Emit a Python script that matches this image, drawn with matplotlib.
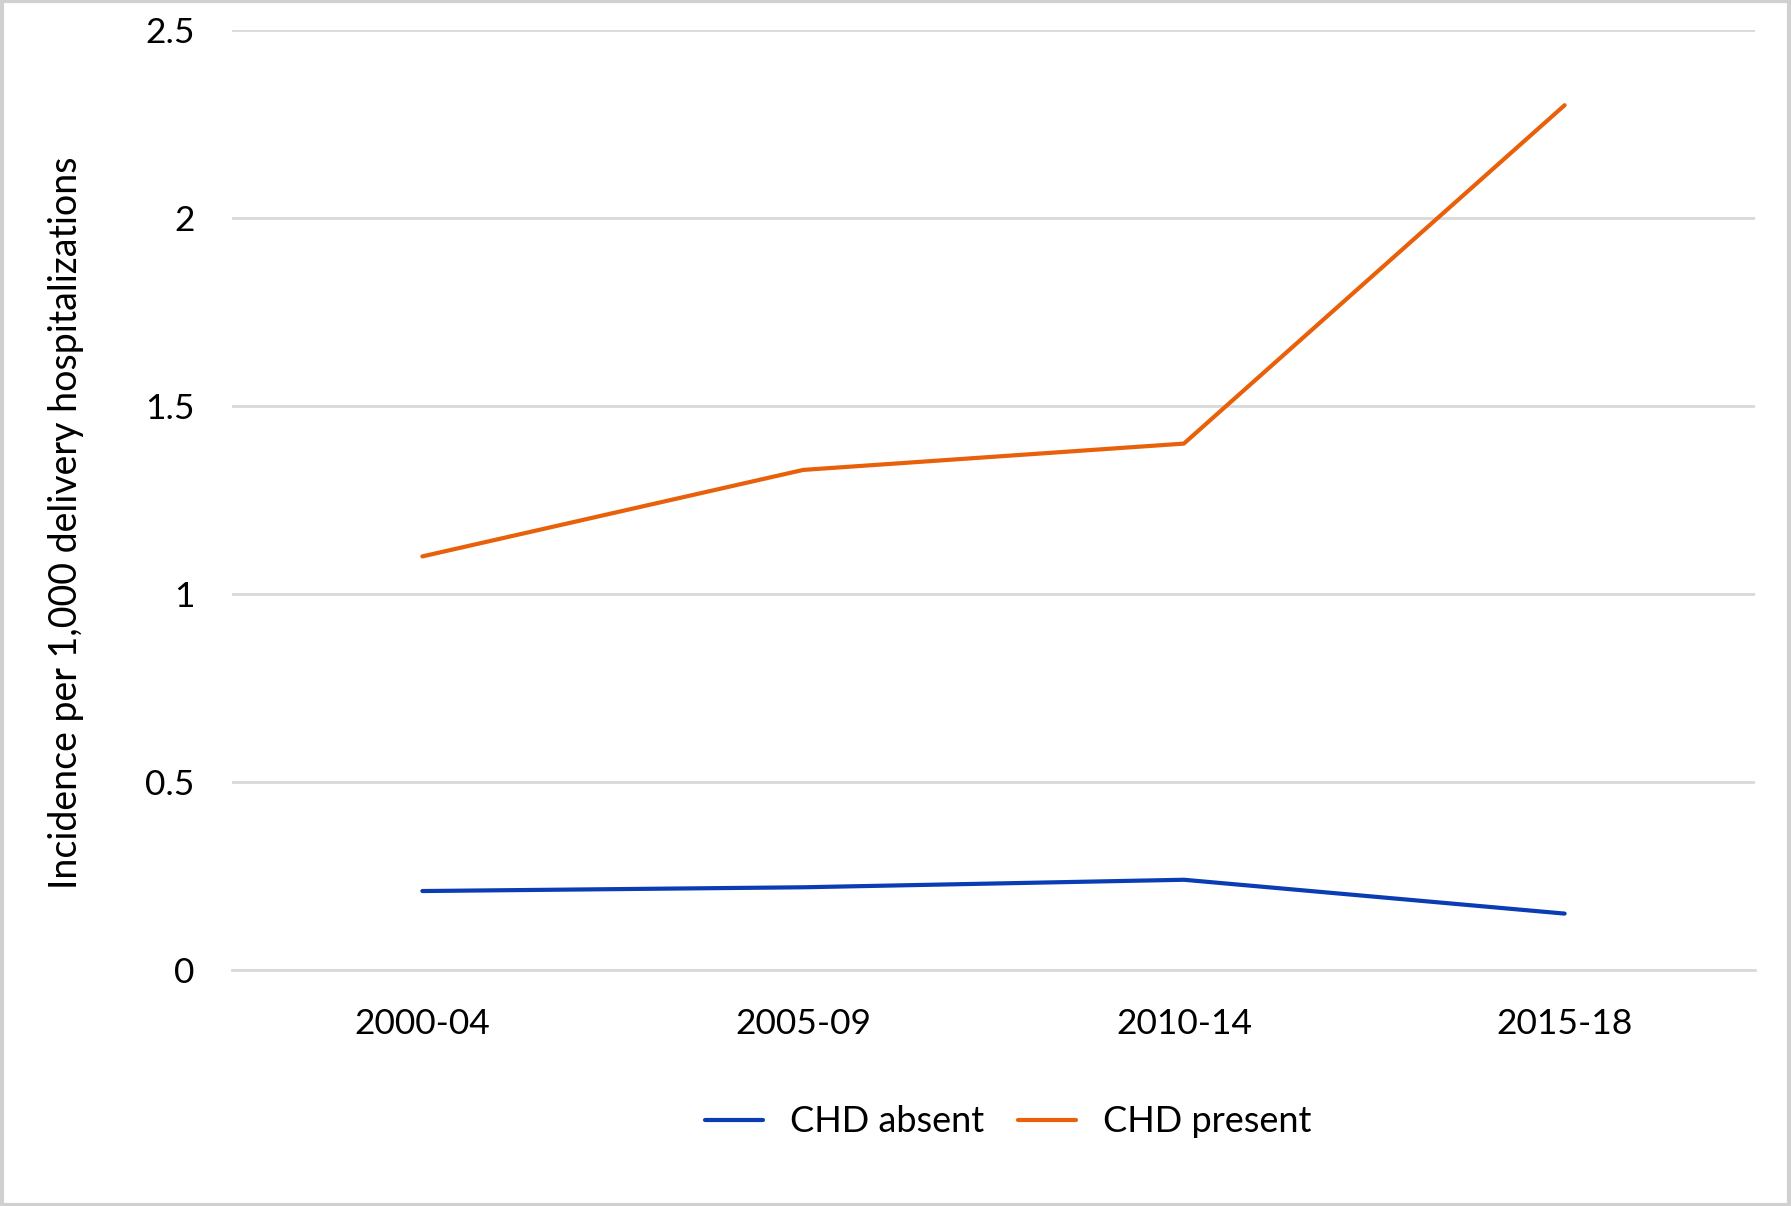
import matplotlib.pyplot as plt
from matplotlib.patches import Rectangle

periodos = ["2000-04", "2005-09", "2010-14", "2015-18"]
chd_absent = [0.21, 0.22, 0.24, 0.15]
chd_present = [1.10, 1.33, 1.40, 2.30]

plt.rcParams["font.family"] = ["Lato", "DejaVu Sans"]

fig = plt.figure(figsize=(17.91, 12.06), dpi=100)
ax = fig.add_axes([232 / 1791, 1 - 970 / 1206, (1755 - 232) / 1791, (970 - 30) / 1206])

x = range(len(periodos))
ax.plot(x, chd_absent, color="#0a3cb4", lw=3, label="CHD absent", solid_capstyle="round")
ax.plot(x, chd_present, color="#e8600a", lw=3, label="CHD present", solid_capstyle="round")

ax.set_xlim(-0.5, len(periodos) - 0.5)
ax.set_ylim(0, 2.5)
ax.set_yticks([0, 0.5, 1, 1.5, 2, 2.5])
ax.set_yticklabels(["0", "0.5", "1", "1.5", "2", "2.5"])
ax.set_xticks(list(x))
ax.set_xticklabels(periodos)
ax.tick_params(axis="both", length=0, labelsize=25.5, colors="black")
ax.tick_params(axis="y", pad=27)
ax.tick_params(axis="x", pad=27)
ax.grid(axis="y", color="#d9d9d9", lw=2)
ax.set_axisbelow(True)
for s in ["top", "right", "left"]:
    ax.spines[s].set_visible(False)
ax.spines["bottom"].set_color("#d9d9d9")
ax.spines["bottom"].set_linewidth(2)

ax.set_ylabel("Incidence per 1,000 delivery hospitalizations", fontsize=27)
ax.yaxis.set_label_coords(-0.0975, 0.476)

fig.legend(loc="center", bbox_to_anchor=(0.563, 1 - 1122 / 1206), ncol=2, frameon=False,
           fontsize=26, handlelength=1.6, columnspacing=0.95, handletextpad=0.75)

# borde del grafico
fig.patches.append(Rectangle((0.001, 0.001), 0.998, 0.998, transform=fig.transFigure,
                             fill=False, edgecolor="#d0d0d0", lw=3))

fig.savefig("out.png", dpi=100, facecolor="white")
